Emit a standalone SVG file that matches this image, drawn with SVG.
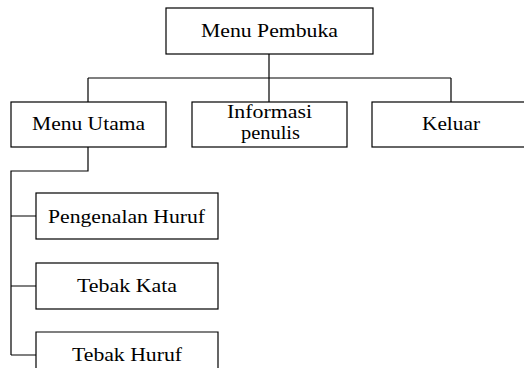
<svg xmlns="http://www.w3.org/2000/svg" width="524" height="378" viewBox="0 0 524 378">
<style>
.box{fill:#fff;stroke:#000;stroke-width:1.2}
.ln{fill:none;stroke:#000;stroke-width:1.2}
text{font-family:"Liberation Serif","Times New Roman",serif;font-size:19.5px;fill:#000;text-anchor:middle}
</style>
<rect width="524" height="378" fill="#fff"/>
<g id="connectors">
<path class="ln" d="M269 54V102M88 78H451M88 78V102M451 78V102"/>
<path class="ln" d="M88 147V171H11V355M11 216H36M11 286H36M11 355H36"/>
</g>
<g id="menu-pembuka"><rect class="box" x="166" y="8" width="207" height="46"/><text x="269.5" y="37" textLength="137" lengthAdjust="spacingAndGlyphs">Menu Pembuka</text></g>
<g id="menu-utama"><rect class="box" x="11" y="102" width="155" height="45"/><text x="88.5" y="130" textLength="113" lengthAdjust="spacingAndGlyphs">Menu Utama</text></g>
<g id="informasi"><rect class="box" x="192" y="102" width="155" height="45"/><text x="269.5" y="118" textLength="85" lengthAdjust="spacingAndGlyphs">Informasi</text><text x="270.5" y="139" textLength="59" lengthAdjust="spacingAndGlyphs">penulis</text></g>
<g id="keluar"><rect class="box" x="372" y="102" width="160" height="45"/><text x="451" y="130" textLength="58" lengthAdjust="spacingAndGlyphs">Keluar</text></g>
<g id="pengenalan"><rect class="box" x="36" y="193" width="182" height="46"/><text x="126.5" y="223" textLength="157" lengthAdjust="spacingAndGlyphs">Pengenalan Huruf</text></g>
<g id="tebak-kata"><rect class="box" x="36" y="263" width="182" height="46"/><text x="127" y="292" textLength="100" lengthAdjust="spacingAndGlyphs">Tebak Kata</text></g>
<g id="tebak-huruf"><path class="ln" d="M36 368V332H218V368"/><text x="127" y="361" textLength="110" lengthAdjust="spacingAndGlyphs">Tebak Huruf</text></g>
</svg>
